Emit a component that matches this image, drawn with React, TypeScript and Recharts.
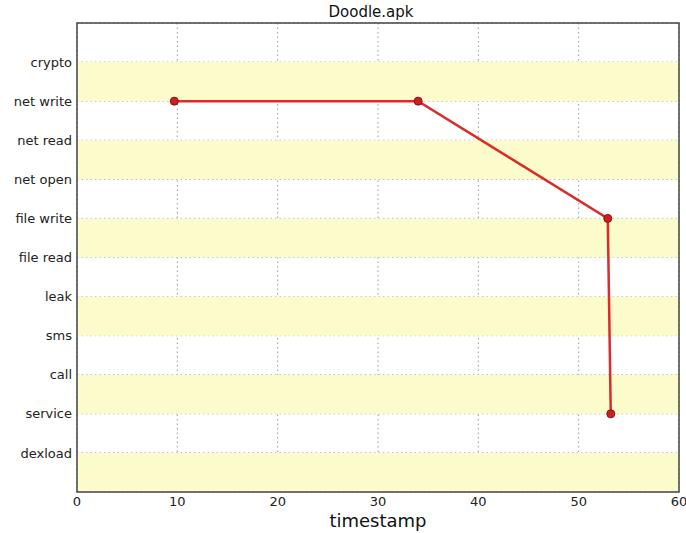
import React from 'react';
import { ComposedChart, Line, XAxis, YAxis, CartesianGrid, ReferenceArea } from 'recharts';

const categories = ['dexload', 'service', 'call', 'sms', 'leak', 'file read', 'file write', 'net open', 'net read', 'net write', 'crypto'];
const timestamps = [9.7, 34.0, 52.9, 53.2];
const events = ['net write', 'net write', 'file write', 'service'];
const xTicks = [0, 10, 20, 30, 40, 50, 60];
const yellowBands = [-1, 1, 3, 5, 7, 9];

const data = timestamps.map((t, i) => ({ t, y: categories.indexOf(events[i]) }));

const font = '"DejaVu Sans", sans-serif';

export default function App() {
  return (
    <div style={{ position: 'absolute', left: 0, top: 0, width: 686, height: 533, background: '#fff', fontFamily: font }}>
      <div style={{ position: 'absolute', top: 3, width: 686, textAlign: 'center', paddingLeft: 56, boxSizing: 'border-box', fontSize: 15, color: '#111' }}>
        Doodle.apk
      </div>
      <ComposedChart width={686} height={533} data={data} margin={{ top: 23, right: 7, left: 0, bottom: 0 }}>
        {yellowBands.map((b) => (
          <ReferenceArea key={b} x1={0} x2={60} y1={b} y2={b + 1} fill="#fbfbcb" fillOpacity={1} stroke="none" />
        ))}
        <CartesianGrid stroke="#999" strokeDasharray="1.5 3" horizontal vertical />
        <XAxis
          dataKey="t"
          type="number"
          domain={[0, 60]}
          ticks={xTicks}
          height={41}
          axisLine={false}
          tickLine={false}
          tickSize={3}
          tick={{ fontSize: 13, fill: '#222', fontFamily: font }}
          label={{ value: 'timestamp', position: 'insideBottom', offset: 6, fontSize: 18, fill: '#111', fontFamily: font }}
        />
        <YAxis
          type="number"
          domain={[-1, 11]}
          ticks={categories.map((_, i) => i)}
          tickFormatter={(v: number) => categories[v] ?? ''}
          width={77}
          axisLine={false}
          tickLine={false}
          tickSize={5}
          tickMargin={0}
          interval={0}
          tick={{ fontSize: 13, fill: '#222', fontFamily: font }}
        />
        <ReferenceArea x1={0} x2={60} y1={-1} y2={11} fill="none" stroke="#444" strokeWidth={1.5} />
        <Line
          dataKey="y"
          type="linear"
          stroke="#dd2a2a"
          strokeWidth={2.5}
          dot={{ r: 4, fill: '#cc2020', stroke: '#8a1010', strokeWidth: 1 }}
          isAnimationActive={false}
        />
      </ComposedChart>
    </div>
  );
}
